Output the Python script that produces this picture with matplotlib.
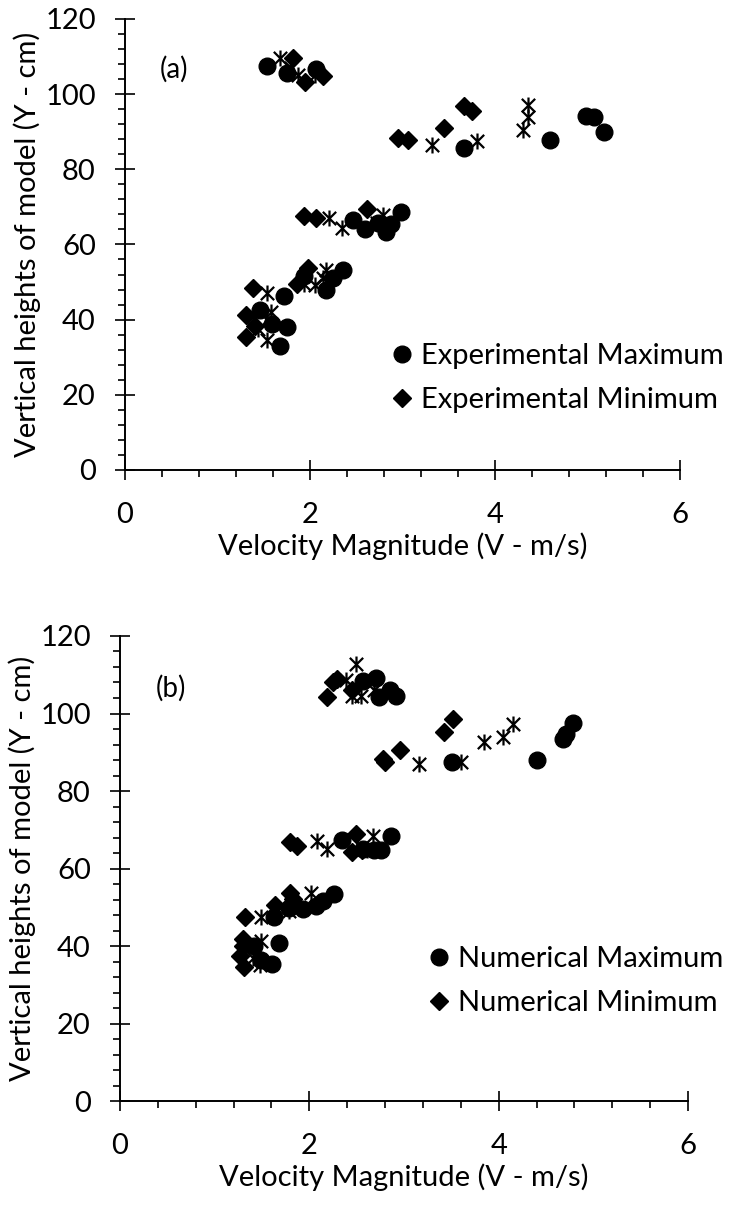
import matplotlib
matplotlib.use("Agg")
import matplotlib.pyplot as plt
from matplotlib.path import Path
from matplotlib.ticker import MultipleLocator

plt.rcParams["font.family"] = ["Lato", "DejaVu Sans"]

# panel (a): experimental
exp_max_v = [1.53, 1.75, 2.06, 3.66, 4.59, 4.98, 5.07, 5.18, 1.72, 1.68, 1.75, 1.46, 1.59,
             2.36, 2.25, 2.17, 1.94, 2.46, 2.59, 2.98, 2.88, 2.82, 2.73]
exp_max_y = [107.4, 105.6, 106.6, 85.6, 87.9, 94.3, 93.8, 89.8, 46.4, 33.1, 38.0, 42.6, 38.7,
             53.3, 51.0, 48.0, 51.5, 66.4, 64.1, 68.5, 65.4, 63.3, 65.7]
exp_min_v = [1.82, 1.95, 2.14, 2.95, 3.06, 3.45, 3.66, 3.75, 1.94, 2.07, 2.62, 1.38, 1.98,
             1.86, 1.31, 1.31, 1.41]
exp_min_y = [109.5, 103.2, 104.9, 88.3, 87.9, 91.1, 96.7, 95.4, 67.5, 66.9, 69.3, 48.3, 53.8,
             49.6, 41.3, 35.5, 38.4]
exp_other_v = [1.68, 1.79, 1.87, 2.05, 3.32, 3.81, 4.30, 4.36, 4.36, 2.21, 2.35, 2.72, 2.79,
               1.54, 1.94, 2.05, 2.14, 2.17, 1.39, 1.58, 1.44, 1.54]
exp_other_y = [109.5, 107.0, 105.1, 105.1, 86.5, 87.5, 90.4, 94.0, 97.2, 66.9, 64.4, 65.7, 67.8,
               47.1, 49.4, 49.2, 51.0, 53.1, 40.5, 42.0, 37.6, 34.5]

# panel (b): numerical
num_max_v = [2.57, 2.70, 2.85, 2.92, 2.74, 3.51, 4.40, 4.68, 4.71, 4.79, 2.34, 2.86, 2.76,
             2.68, 2.57, 2.26, 2.14, 2.07, 1.93, 1.78, 1.63, 1.68, 1.61, 1.49, 1.42]
num_max_y = [108.5, 109.1, 106.0, 104.6, 104.3, 87.4, 87.9, 93.3, 94.7, 97.6, 67.3, 68.4, 64.8,
             64.8, 65.0, 53.5, 51.7, 50.4, 49.5, 49.9, 47.6, 40.9, 35.4, 36.3, 40.0]
num_min_v = [2.19, 2.25, 2.29, 2.45, 2.80, 2.78, 2.96, 3.42, 3.52, 1.80, 1.87, 2.49, 2.45,
             2.56, 1.32, 1.80, 1.83, 1.64, 1.30, 1.30, 1.27, 1.31]
num_min_y = [104.3, 108.0, 108.9, 106.1, 87.4, 88.3, 90.6, 95.3, 98.5, 66.8, 65.7, 68.9, 64.2,
             64.8, 47.4, 53.7, 52.2, 50.6, 41.8, 40.0, 37.3, 34.5]
num_other_v = [2.49, 2.39, 2.45, 2.55, 2.68, 3.16, 3.60, 3.84, 4.05, 4.15, 2.08, 2.19, 2.67,
               2.61, 1.49, 2.02, 1.78, 1.49, 1.40, 1.48, 1.39]
num_other_y = [112.7, 108.7, 104.6, 104.6, 106.0, 87.0, 87.6, 92.7, 93.9, 97.4, 67.1, 65.1, 68.4,
               64.8, 47.6, 53.8, 49.0, 41.3, 36.8, 35.0, 40.0]

# Excel style star: X with a vertical bar
star = Path(
    [(-1, -1), (1, 1), (-1, 1), (1, -1), (0, -1.2), (0, 1.2)],
    [Path.MOVETO, Path.LINETO, Path.MOVETO, Path.LINETO, Path.MOVETO, Path.LINETO],
)


def draw_panel(ax, max_v, max_y, min_v, min_y, oth_v, oth_y, tag, names, legend_anchor):
    ax.plot(max_v, max_y, "o", color="black", markersize=12, label=names[0], zorder=3)
    ax.plot(min_v, min_y, "D", color="black", markersize=9, label=names[1], zorder=3)
    ax.plot(oth_v, oth_y, linestyle="none", marker=star, markersize=11.5, markerfacecolor="none",
            markeredgecolor="black", markeredgewidth=1.6, zorder=4)
    ax.set_xlim(0, 6)
    ax.set_ylim(0, 120)
    ax.xaxis.set_major_locator(MultipleLocator(2))
    ax.xaxis.set_minor_locator(MultipleLocator(0.4))
    ax.yaxis.set_major_locator(MultipleLocator(20))
    ax.yaxis.set_minor_locator(MultipleLocator(4))
    ax.tick_params(which="major", direction="inout", length=14, width=1.2, labelsize=21)
    ax.tick_params(which="minor", direction="out", length=5, width=1.2)
    ax.tick_params(axis="y", which="major", pad=14)
    ax.tick_params(axis="x", which="major", pad=16)
    for side in ["top", "right"]:
        ax.spines[side].set_visible(False)
    for side in ["left", "bottom"]:
        ax.spines[side].set_linewidth(1.4)
    ax.set_xlabel("Velocity Magnitude (V - m/s)", fontsize=21, labelpad=3)
    ax.set_ylabel("Vertical heights of model (Y - cm)", fontsize=21, labelpad=3)
    ax.text(0.063, 0.87, tag, transform=ax.transAxes, fontsize=20)
    ax.legend(loc="lower right", bbox_to_anchor=legend_anchor, frameon=False, fontsize=21,
              handlelength=0.6, handletextpad=0.35, labelspacing=0.62, borderaxespad=0)


fig = plt.figure(figsize=(7.3, 12.05), dpi=100)
ax_a = fig.add_axes([0.1712, 0.6100, 0.7603, 0.3743])
ax_b = fig.add_axes([0.1644, 0.0863, 0.7781, 0.3859])

draw_panel(ax_a, exp_max_v, exp_max_y, exp_min_v, exp_min_y, exp_other_v, exp_other_y, "(a)",
           ["Experimental Maximum", "Experimental Minimum"], (1.1, 0.1))
draw_panel(ax_b, num_max_v, num_max_y, num_min_v, num_min_y, num_other_v, num_other_y, "(b)",
           ["Numerical Maximum", "Numerical Minimum"], (1.082, 0.158))

fig.savefig("out.png", dpi=100)
